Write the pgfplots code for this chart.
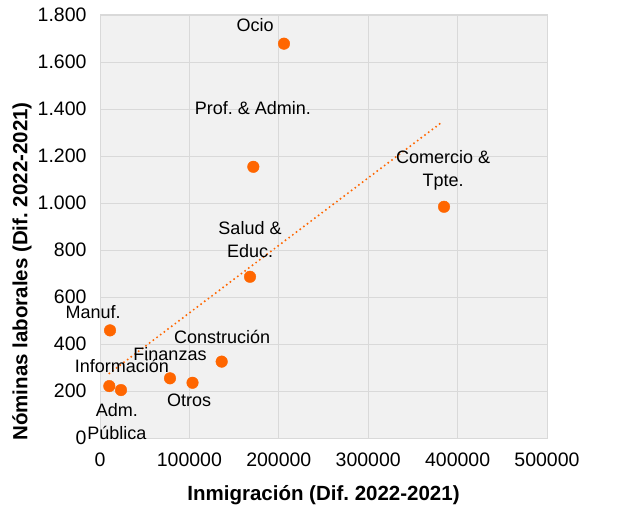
\documentclass[border=0pt]{standalone}
\usepackage{pgfplots}
\pgfplotsset{compat=1.18}
\usepackage{fontspec}
\setmainfont{Liberation Sans}
\definecolor{orng}{RGB}{255,102,0}
\definecolor{bg}{RGB}{241,241,241}
\definecolor{grd}{RGB}{217,217,217}
\frenchspacing
\begin{document}
\frenchspacing
\begin{tikzpicture}
\begin{axis}[
 scale only axis, width=447bp, height=423bp,
 xmin=0, xmax=500000, ymin=0, ymax=1800,
 xtick={0,100000,200000,300000,400000,500000},
 xticklabels={0,100000,200000,300000,400000,500000},
 ytick={0,200,400,600,800,1000,1200,1400,1600,1800},
 yticklabels={0,200,400,600,800,1.000,1.200,1.400,1.600,1.800},
 scaled x ticks=false, scaled y ticks=false,
 ticklabel style={font=\fontsize{19.5bp}{23bp}\selectfont},
 xticklabel style={yshift=-11bp},
 yticklabel style={xshift=-10bp},
 grid=major, grid style={grd, line width=0.9bp},
 axis background/.style={fill=bg},
 axis line style={grd, line width=1bp},
 tick style={draw=none},
 font=\fontsize{18bp}{23bp}\selectfont,
 clip=false,
 xlabel={\bfseries Inmigración (Dif. 2022-2021)},
 ylabel={\bfseries Nóminas laborales (Dif. 2022-2021)},
 label style={font=\fontsize{20.5bp}{24bp}\selectfont},
 xlabel style={at={(rel axis cs:0.5,0)}, anchor=center, yshift=-57bp},
 ylabel style={at={(rel axis cs:0,0.5)}, anchor=center, yshift=78bp, xshift=-45bp},
 after end axis/.code={\path ([xshift=-100bp,yshift=-71bp]rel axis cs:0,0) rectangle ([xshift=72bp,yshift=15bp]rel axis cs:1,1);},
]
\addplot[orng, line width=2.2bp, line cap=round, dash pattern=on 0bp off 4.6bp] coordinates {(10400,275) (380800,1339)};
\addplot[orng, only marks, mark=*, mark size=5.8bp, mark options={fill=orng, draw=orng}] coordinates {
(205800,1678) (171500,1154) (384800,984) (167800,686) (11200,458)
(136100,325) (78300,254) (103500,235) (10400,221) (23500,204)};
\node[align=center] at (axis cs:173400,1757) {Ocio};
\node[align=center] at (axis cs:171000,1404) {Prof. \& Admin.};
\node[align=center] at (axis cs:383900,1140) {Comercio \&\\Tpte.};
\node[align=center] at (axis cs:167800,843) {Salud \&\\Educ.};
\node[align=center] at (axis cs:-7800,536) {Manuf.};
\node[align=center] at (axis cs:136500,430) {Construción};
\node[align=center] at (axis cs:78300,357) {Finanzas};
\node[align=center] at (axis cs:24600,306) {Información};
\node[align=center] at (axis cs:99800,162) {Otros};
\node[align=center] at (axis cs:19000,72) {Adm.\\Pública};
\end{axis}
\end{tikzpicture}
\end{document}
